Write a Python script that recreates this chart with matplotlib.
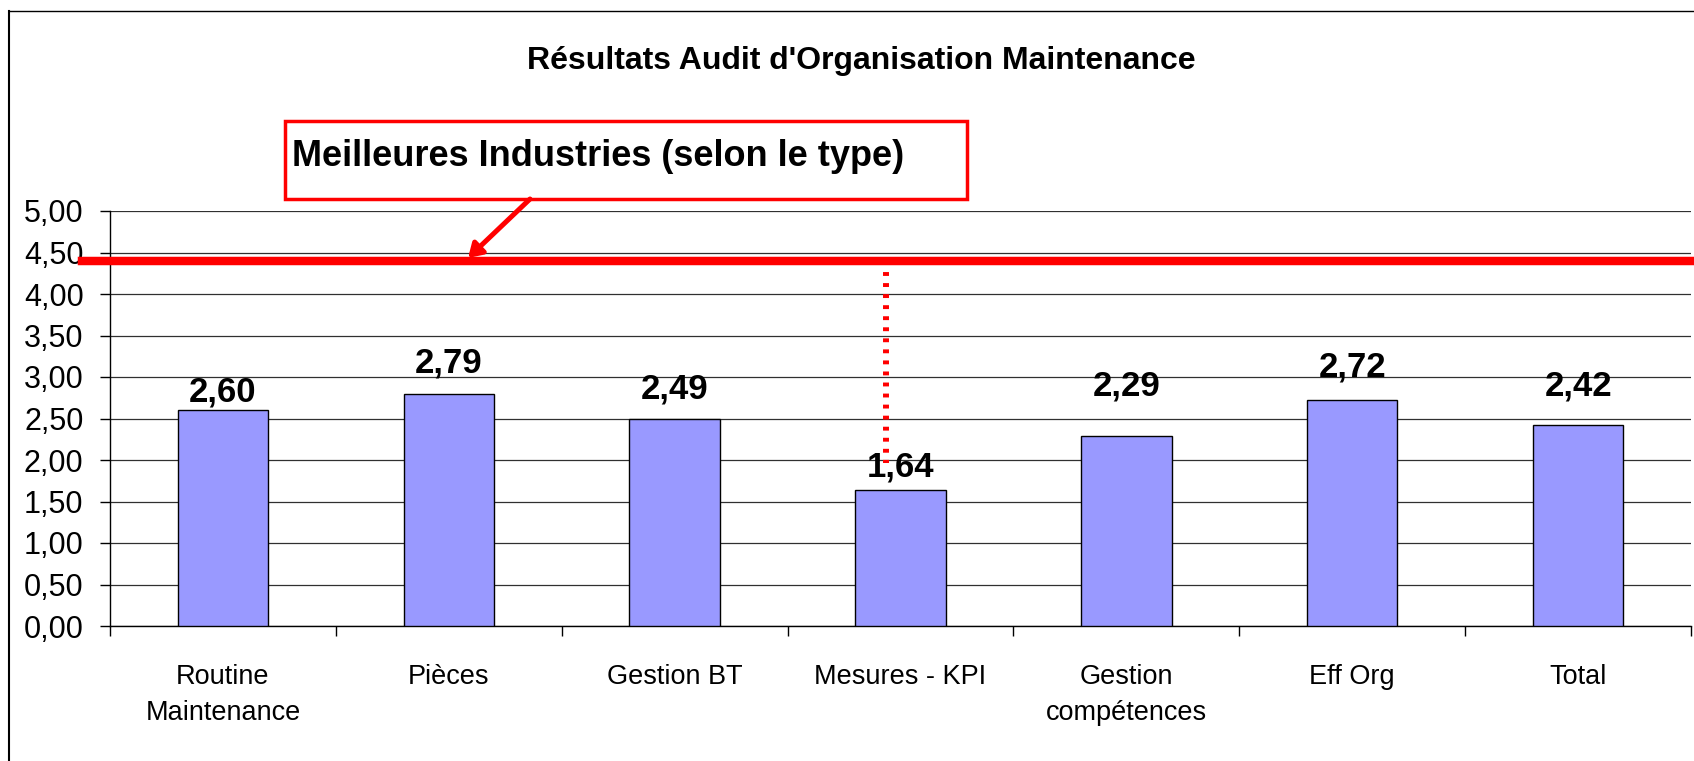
import matplotlib
matplotlib.use("Agg")
import matplotlib.pyplot as plt
from matplotlib.lines import Line2D
from matplotlib.patches import Rectangle, FancyArrowPatch


# --------------------------------
# Data
# --------------------------------

categories = [
    "Routine\nMaintenance",
    "Pièces",
    "Gestion BT",
    "Mesures - KPI",
    "Gestion\ncompétences",
    "Eff Org",
    "Total",
]

scores = [2.60, 2.79, 2.49, 1.64, 2.29, 2.72, 2.42]

benchmark = 4.40
benchmark_label = "Meilleures Industries (selon le type)"

# dotted drop line from the benchmark (x position, lower end)
drop_x = 2.934
drop_bottom = 1.96

y_ticks = [0.0, 0.5, 1.0, 1.5, 2.0, 2.5, 3.0, 3.5, 4.0, 4.5, 5.0]

title = "Résultats Audit d'Organisation Maintenance"

# label offsets above each bar (points) - labels were moved by hand
label_offsets = [6.5, 15.5, 15, 9.5, 29, 17, 21.5]


def fr(v):
    return f"{v:.2f}".replace(".", ",")


# no Arial Narrow here, Liberation Sans (Arial metrics) at slightly smaller sizes
plt.rcParams["font.family"] = ["Liberation Sans", "DejaVu Sans"]

W, H = 1694, 761
fig = plt.figure(figsize=(W / 100, H / 100), dpi=100)


def fx(px):
    return px / W


def fy(py):
    return 1 - py / H


ax = fig.add_axes([fx(110), fy(626), fx(1691) - fx(110), fy(211) - fy(626)])

# --------------------------------
# Bars
# --------------------------------

x = list(range(len(categories)))
ax.bar(x, scores, width=0.4, color="#9999FF", edgecolor="black", linewidth=1.0, zorder=3)

for xi, v, off in zip(x, scores, label_offsets):
    ax.annotate(fr(v), (xi, v), xytext=(0, off), textcoords="offset points",
                ha="center", va="baseline", fontsize=25, fontweight="bold", zorder=5)

ax.set_xlim(-0.5, len(categories) - 0.5)
ax.set_ylim(0, 5)

ax.set_yticks(y_ticks)
ax.set_yticklabels([fr(t) for t in y_ticks])
ax.tick_params(axis="y", length=7, width=1, pad=12, labelsize=22, direction="out")

ax.set_xticks([i - 0.5 for i in range(len(categories) + 1)])
ax.set_xticklabels([])
ax.tick_params(axis="x", which="major", length=7.5, width=1, direction="out")
ax.set_xticks(x, minor=True)
ax.set_xticklabels(categories, minor=True, fontsize=19.5, linespacing=1.55)
ax.tick_params(axis="x", which="minor", length=0, pad=27)

ax.yaxis.grid(True, color="#303030", linewidth=0.9)
ax.set_axisbelow(True)

for s in ["top", "right"]:
    ax.spines[s].set_visible(False)
ax.spines["left"].set_linewidth(1.0)
ax.spines["bottom"].set_linewidth(1.0)

# --------------------------------
# Benchmark line
# --------------------------------

ax.axhline(benchmark, xmin=-0.0177, xmax=1.02, color="red", linewidth=6.1,
           clip_on=False, zorder=6)
ax.plot([drop_x, drop_x], [benchmark, drop_bottom], color="red", linewidth=4.3,
        linestyle=(0, (0.65, 1.2)), zorder=4)

# --------------------------------
# Annotation box + arrow
# --------------------------------

fig.patches.append(Rectangle((fx(285), fy(199)), fx(967) - fx(285), fy(121) - fy(199),
                             transform=fig.transFigure, facecolor="white",
                             edgecolor="red", linewidth=2.5, zorder=7))
fig.text(fx(292), fy(166), benchmark_label, ha="left", va="baseline",
         fontsize=26, fontweight="bold", zorder=8)
fig.patches.append(FancyArrowPatch((fx(530), fy(199)), (fx(468), fy(258)),
                                   transform=fig.transFigure, arrowstyle="-|>,head_length=8,head_width=5",
                                   color="red", linewidth=3.6, shrinkA=0, shrinkB=0, zorder=7))

# --------------------------------
# Title + outer frame
# --------------------------------

fig.text(fx(861), fy(61), title, ha="center", va="center", fontsize=23, fontweight="bold")

fig.add_artist(Line2D([fx(9), fx(9)], [0, fy(11)], color="black", linewidth=1.5))
fig.add_artist(Line2D([fx(9), 1], [fy(11), fy(11)], color="black", linewidth=1.0))

fig.savefig("out.png", dpi=100)
